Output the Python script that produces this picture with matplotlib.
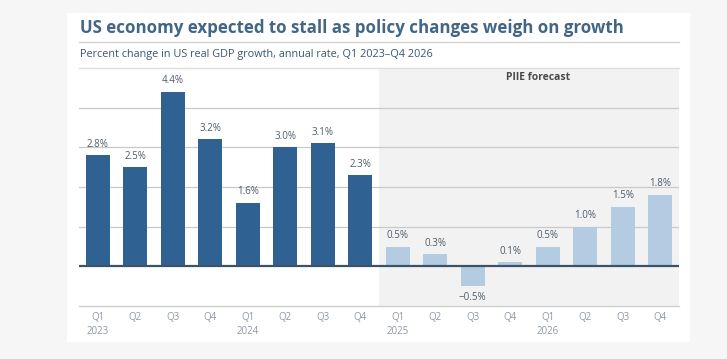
import matplotlib.pyplot as plt
from matplotlib.patches import Rectangle

quarters = ['Q1\n2023', 'Q2', 'Q3', 'Q4', 'Q1\n2024', 'Q2', 'Q3', 'Q4',
            'Q1\n2025', 'Q2', 'Q3', 'Q4', 'Q1\n2026', 'Q2', 'Q3', 'Q4']
growth = [2.8, 2.5, 4.4, 3.2, 1.6, 3.0, 3.1, 2.3,
          0.5, 0.3, -0.5, 0.1, 0.5, 1.0, 1.5, 1.8]
n_actual = 8  # les 8 premiers trimestres sont observés, le reste = prévision

plt.rcParams['font.family'] = ['Open Sans', 'DejaVu Sans']

W, H = 727, 359
fig = plt.figure(figsize=(W / 100, H / 100), dpi=100, facecolor='#f6f6f6')

# carte blanche
fig.patches.append(Rectangle((67 / W, 1 - 342 / H), (690 - 67) / W, (342 - 13) / H,
                             transform=fig.transFigure, facecolor='white',
                             edgecolor='none', zorder=-10))

fig.text(80 / W, 1 - 28 / H, 'US economy expected to stall as policy changes weigh on growth',
         fontsize=12.2, fontweight='bold', color='#426684', va='center', ha='left')
fig.add_artist(plt.Line2D([79 / W, 679 / W], [1 - 42 / H, 1 - 42 / H],
                          transform=fig.transFigure, color='#d4d4d4', lw=1))
fig.text(80 / W, 1 - 54 / H, 'Percent change in US real GDP growth, annual rate, Q1 2023\u2013Q4 2026',
         fontsize=7.8, color='#3b5670', va='center', ha='left')

ax = fig.add_axes([79 / W, 1 - 306 / H, 600 / W, 238 / H])
ax.set_facecolor('none')

x = list(range(len(growth)))
colors = ['#2f6292' if i < n_actual else '#b4cce1' for i in x]
ax.axvspan(n_actual - 0.5, len(growth) - 0.5, color='#f2f2f2', zorder=0, lw=0)

for v in [1, 2, 3, 4]:
    ax.axhline(v, color='#c9c9c9', lw=0.9, zorder=1)
ax.bar(x, growth, width=0.64, color=colors, zorder=2)
ax.axhline(0, color='#3d5266', lw=1.6, zorder=3)

for i, v in zip(x, growth):
    if v >= 0:
        ax.annotate(f'{v:.1f}%', (i, v), xytext=(0, 4), textcoords='offset points',
                    ha='center', va='bottom', fontsize=7, color='#4d5d6c')
    else:
        ax.annotate(f'\u2212{abs(v):.1f}%', (i, v), xytext=(0, -4), textcoords='offset points',
                    ha='center', va='top', fontsize=7, color='#4d5d6c')

ax.text(0.765, 0.962, 'PIIE forecast', transform=ax.transAxes, ha='center', va='center',
        fontsize=7.5, fontweight='bold', color='#4a4a4a')

ax.set_xlim(-0.5, len(growth) - 0.5)
ax.set_ylim(-1, 5)
ax.set_yticks([])
ax.set_xticks(x)
ax.set_xticklabels(quarters, fontsize=7, color='#8e99a5', linespacing=1.4)
ax.tick_params(axis='x', length=0, pad=4)
for s in ['left', 'right']:
    ax.spines[s].set_visible(False)
ax.spines['top'].set_color('#dedede')
ax.spines['bottom'].set_color('#cfcfcf')
ax.spines['top'].set_linewidth(1)
ax.spines['bottom'].set_linewidth(1)

fig.savefig('out.png', dpi=100, facecolor=fig.get_facecolor())
